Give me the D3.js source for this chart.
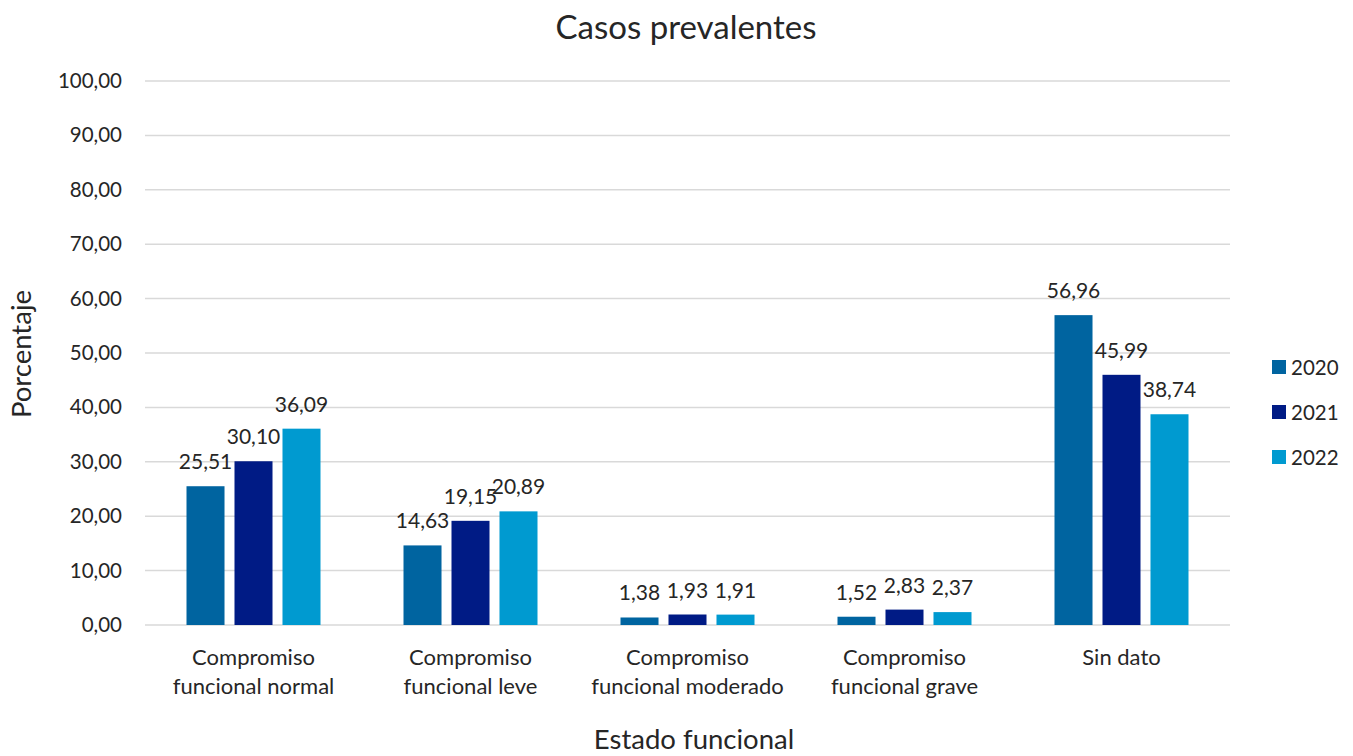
<!DOCTYPE html>
<html>
<head>
<meta charset="utf-8">
<script src="https://cdn.jsdelivr.net/npm/d3@7"></script>
<style>
  body { margin: 0; background: #fff; }
  text { font-family: Lato, "Noto Sans", sans-serif; fill: #262626; }
</style>
</head>
<body>
<svg id="chart" width="1353" height="756"></svg>
<script>
let categories = [
	["Compromiso", "funcional normal"],
	["Compromiso", "funcional leve"],
	["Compromiso", "funcional moderado"],
	["Compromiso", "funcional grave"],
	["Sin dato"]
];
let years = ["2020", "2021", "2022"];
let values2020 = [25.51, 14.63, 1.38, 1.52, 56.96];
let values2021 = [30.10, 19.15, 1.93, 2.83, 45.99];
let values2022 = [36.09, 20.89, 1.91, 2.37, 38.74];
let yTicks = [0, 10, 20, 30, 40, 50, 60, 70, 80, 90, 100];
let colors = ["#0064a0", "#001b85", "#009ad0"];

let series = [values2020, values2021, values2022];

let svg = d3.select("svg#chart"),
	plotLeft = 145, plotRight = 1230, plotTop = 81, plotBottom = 625;

let fmt = function(v) { return v.toFixed(2).replace(".", ","); };

let x0 = d3.scaleBand()
	.domain(d3.range(categories.length))
	.range([plotLeft, plotRight]);

let groupW = 134;
let x1 = d3.scaleBand()
	.domain(years)
	.range([0, groupW])
	.paddingInner(0.208);

let y = d3.scaleLinear()
	.domain([0, 100])
	.range([plotBottom, plotTop]);

// grid
svg.append("g").selectAll("line")
	.data(yTicks)
	.enter().append("line")
	.attr("x1", plotLeft).attr("x2", plotRight)
	.attr("y1", function(d) { return y(d); })
	.attr("y2", function(d) { return y(d); })
	.attr("stroke", "#d9d9d9")
	.attr("stroke-width", 1.5);

// y axis labels
let yAxis = svg.append("g")
	.attr("transform", "translate(" + plotLeft + ",0)")
	.call(d3.axisLeft(y).tickValues(yTicks).tickSize(0).tickPadding(23).tickFormat(fmt));
yAxis.select(".domain").remove();
yAxis.selectAll("text")
	.style("font-size", "20.5px")
	.style("font-family", "Lato, 'Noto Sans', sans-serif")
	.attr("fill", "#262626");

// bars
let groups = svg.append("g").selectAll("g")
	.data(categories)
	.enter().append("g")
	.attr("transform", function(d, i) {
		return "translate(" + (x0(i) + (x0.bandwidth() - groupW) / 2) + ",0)";
	});

let rows = function(d, i) {
	return years.map(function(yr, k) { return { year: yr, k: k, v: series[k][i] }; });
};

groups.selectAll("rect")
	.data(rows)
	.enter().append("rect")
	.attr("x", function(d) { return x1(d.year); })
	.attr("y", function(d) { return y(d.v); })
	.attr("width", x1.bandwidth())
	.attr("height", function(d) { return y(0) - y(d.v); })
	.attr("fill", function(d) { return colors[d.k]; });

groups.selectAll("text.val")
	.data(rows)
	.enter().append("text")
	.attr("class", "val")
	.attr("x", function(d) { return x1(d.year) + x1.bandwidth() / 2; })
	.attr("y", function(d) { return y(d.v) - 17; })
	.attr("text-anchor", "middle")
	.style("font-size", "21px")
	.text(function(d) { return fmt(d.v); });

// category labels
svg.append("g").selectAll("text")
	.data(categories)
	.enter().append("text")
	.attr("x", function(d, i) { return x0(i) + x0.bandwidth() / 2; })
	.attr("y", 665)
	.attr("text-anchor", "middle")
	.style("font-size", "22px")
	.each(function(d) {
		let t = d3.select(this);
		d.forEach(function(line, j) {
			t.append("tspan")
				.attr("x", t.attr("x"))
				.attr("dy", j === 0 ? 0 : 29)
				.text(line);
		});
	});

// title and axis titles
svg.append("text")
	.attr("x", 686).attr("y", 39)
	.attr("text-anchor", "middle")
	.style("font-size", "33px")
	.text("Casos prevalentes");

svg.append("text")
	.attr("x", 694).attr("y", 749)
	.attr("text-anchor", "middle")
	.style("font-size", "27.5px")
	.text("Estado funcional");

svg.append("text")
	.attr("transform", "translate(31,354) rotate(-90)")
	.attr("text-anchor", "middle")
	.style("font-size", "27.5px")
	.text("Porcentaje");

// legend
let legend = svg.append("g").selectAll("g")
	.data(years)
	.enter().append("g")
	.attr("transform", function(d, i) { return "translate(1272," + (367 + i * 45) + ")"; });

legend.append("rect")
	.attr("x", 0).attr("y", -7)
	.attr("width", 14).attr("height", 14)
	.attr("fill", function(d, i) { return colors[i]; });

legend.append("text")
	.attr("x", 19).attr("y", 7.5)
	.style("font-size", "20.5px")
	.text(function(d) { return d; });
</script>
</body>
</html>
